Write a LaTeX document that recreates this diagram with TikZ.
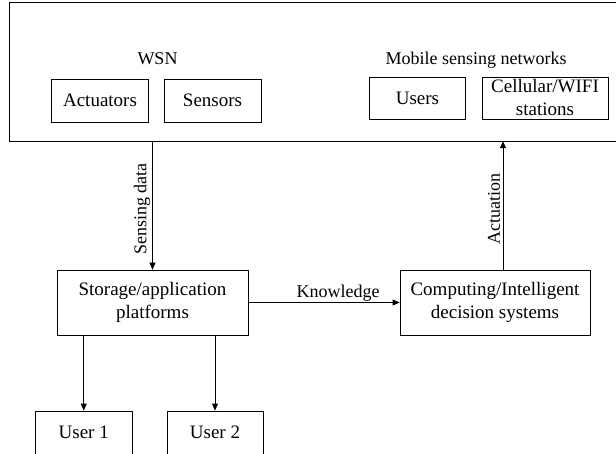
\documentclass[tikz,border=0pt]{standalone}
\usepackage{fontspec}
\setmainfont{Liberation Serif}
\usetikzlibrary{arrows.meta}
\begin{document}
\begin{tikzpicture}[x=1pt,y=-1pt,
  box/.style={draw,line width=0.8pt,inner sep=0pt,align=center,font=\fontsize{19}{23}\selectfont},
  lbl/.style={font=\fontsize{18}{21}\selectfont,inner sep=0pt},
  arr/.style={line width=0.8pt,-{Triangle[length=7pt,width=6pt]}}]
\useasboundingbox (0,0) rectangle (616,454);
% outer network region (right edge runs off the picture)
\node[inner sep=0pt,minimum width=608,minimum height=138] (net) at (314,72) {};
\draw[line width=0.8pt] (net.north east) -- (net.north west) -- (net.south west) -- (net.south east);
\node[lbl,anchor=base] (wsn) at (157.5,65) {WSN};
\node[lbl,anchor=base] (msn) at (476,65) {Mobile sensing networks};
\node[box,minimum width=97,minimum height=43] (act) at (100,100.5) {Actuators};
\node[box,minimum width=97,minimum height=43] (sens) at (212.5,100.5) {Sensors};
\node[box,minimum width=96,minimum height=42] (users) at (417.5,98) {Users};
\node[box,minimum width=126,minimum height=42] (cell) at (545,98) {Cellular/WIFI\\stations};
% lower row
\node[box,minimum width=191,minimum height=65] (stor) at (152.5,302.5) {Storage/application\\platforms};
\node[box,minimum width=190,minimum height=65] (comp) at (495,302.5) {Computing/Intelligent\\decision systems};
\node[box,minimum width=97,minimum height=43] (u1) at (83.75,432.5) {User 1};
\node[box,minimum width=96,minimum height=43] (u2) at (215,432.5) {User 2};
% connectors
\coordinate (ax) at (503,0);
\draw[arr] (net.south -| stor.north) -- (stor.north);
\node[lbl,rotate=90] (lsens) at (142,209) {Sensing data};
\draw[arr] (ax |- comp.north) -- (ax |- net.south);
\node[lbl,rotate=90] (lact) at (494,209) {Actuation};
\draw[arr] (stor.east) -- (comp.west);
\node[lbl,anchor=base] (lknow) at (338,298) {Knowledge};
\draw[arr] (stor.south -| u1.north) -- (u1.north);
\draw[arr] (stor.south -| u2.north) -- (u2.north);
\end{tikzpicture}
\end{document}
